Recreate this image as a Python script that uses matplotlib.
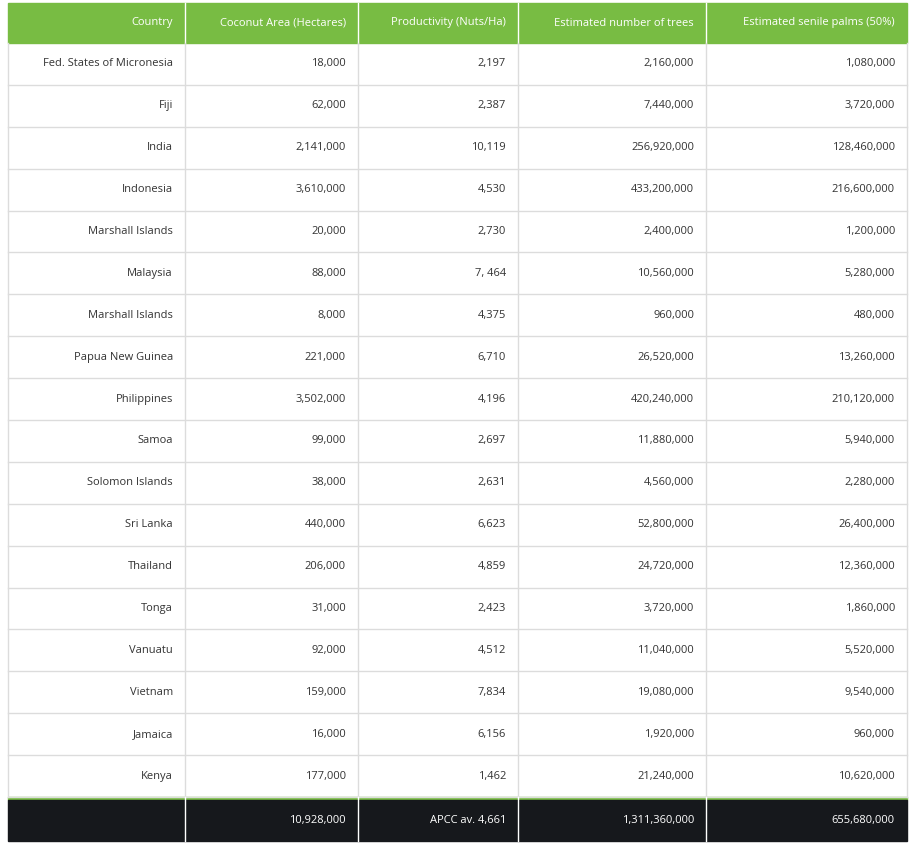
import matplotlib.pyplot as plt
from matplotlib.patches import Rectangle

plt.rcParams['font.family'] = ['Open Sans', 'DejaVu Sans']

headers = ["Country", "Coconut Area (Hectares)", "Productivity (Nuts/Ha)",
           "Estimated number of trees", "Estimated senile palms (50%)"]
countries = ["Fed. States of Micronesia", "Fiji", "India", "Indonesia", "Marshall Islands",
             "Malaysia", "Marshall Islands", "Papua New Guinea", "Philippines", "Samoa",
             "Solomon Islands", "Sri Lanka", "Thailand", "Tonga", "Vanuatu", "Vietnam",
             "Jamaica", "Kenya"]
area = ["18,000", "62,000", "2,141,000", "3,610,000", "20,000", "88,000", "8,000", "221,000",
        "3,502,000", "99,000", "38,000", "440,000", "206,000", "31,000", "92,000", "159,000",
        "16,000", "177,000"]
productivity = ["2,197", "2,387", "10,119", "4,530", "2,730", "7, 464", "4,375", "6,710",
                "4,196", "2,697", "2,631", "6,623", "4,859", "2,423", "4,512", "7,834",
                "6,156", "1,462"]
trees = ["2,160,000", "7,440,000", "256,920,000", "433,200,000", "2,400,000", "10,560,000",
         "960,000", "26,520,000", "420,240,000", "11,880,000", "4,560,000", "52,800,000",
         "24,720,000", "3,720,000", "11,040,000", "19,080,000", "1,920,000", "21,240,000"]
senile = ["1,080,000", "3,720,000", "128,460,000", "216,600,000", "1,200,000", "5,280,000",
          "480,000", "13,260,000", "210,120,000", "5,940,000", "2,280,000", "26,400,000",
          "12,360,000", "1,860,000", "5,520,000", "9,540,000", "960,000", "10,620,000"]
footer = ["", "10,928,000", "APCC av. 4,661", "1,311,360,000", "655,680,000"]

W, H = 916, 846
fig = plt.figure(figsize=(W / 100, H / 100), dpi=100)
ax = fig.add_axes([0, 0, 1, 1])
ax.set_xlim(0, W)
ax.set_ylim(H, 0)
ax.axis('off')

col_x = [8, 185, 358, 518, 706, 907]
green = '#78bc43'
dark = '#16181c'
grid = '#dcdcdc'
fs = 8

# header
top, hdr_bot = 3, 43
ax.add_patch(Rectangle((col_x[0], top), col_x[-1] - col_x[0], hdr_bot - top, color=green))
for j, h in enumerate(headers):
    ax.text(col_x[j + 1] - 12, (top + hdr_bot) / 2, h, ha='right', va='center',
            color='white', fontsize=fs)
for x in col_x[1:-1]:
    ax.plot([x, x], [top, hdr_bot], color='white', lw=1)

# body
rows = list(zip(countries, area, productivity, trees, senile))
body_bot = 797
rh = (body_bot - hdr_bot) / len(rows)
for i, r in enumerate(rows):
    y0 = hdr_bot + i * rh
    ax.plot([col_x[0], col_x[-1]], [y0 + rh, y0 + rh], color=grid, lw=1)
    for j, v in enumerate(r):
        ax.text(col_x[j + 1] - 12, y0 + rh / 2, v, ha='right', va='center',
                color='#333333', fontsize=fs)
for x in col_x:
    ax.plot([x, x], [hdr_bot, body_bot], color=grid, lw=1)

# footer
ax.add_patch(Rectangle((col_x[0], body_bot), col_x[-1] - col_x[0], 3, color=green))
ax.add_patch(Rectangle((col_x[0], body_bot + 3), col_x[-1] - col_x[0], 841 - body_bot - 3,
                       color=dark))
for x in col_x[1:-1]:
    ax.plot([x, x], [body_bot, 841], color='white', lw=1)
for j, v in enumerate(footer):
    ax.text(col_x[j + 1] - 12, (body_bot + 3 + 841) / 2, v, ha='right', va='center',
            color='white', fontsize=fs)

fig.savefig('out.png', dpi=100)
